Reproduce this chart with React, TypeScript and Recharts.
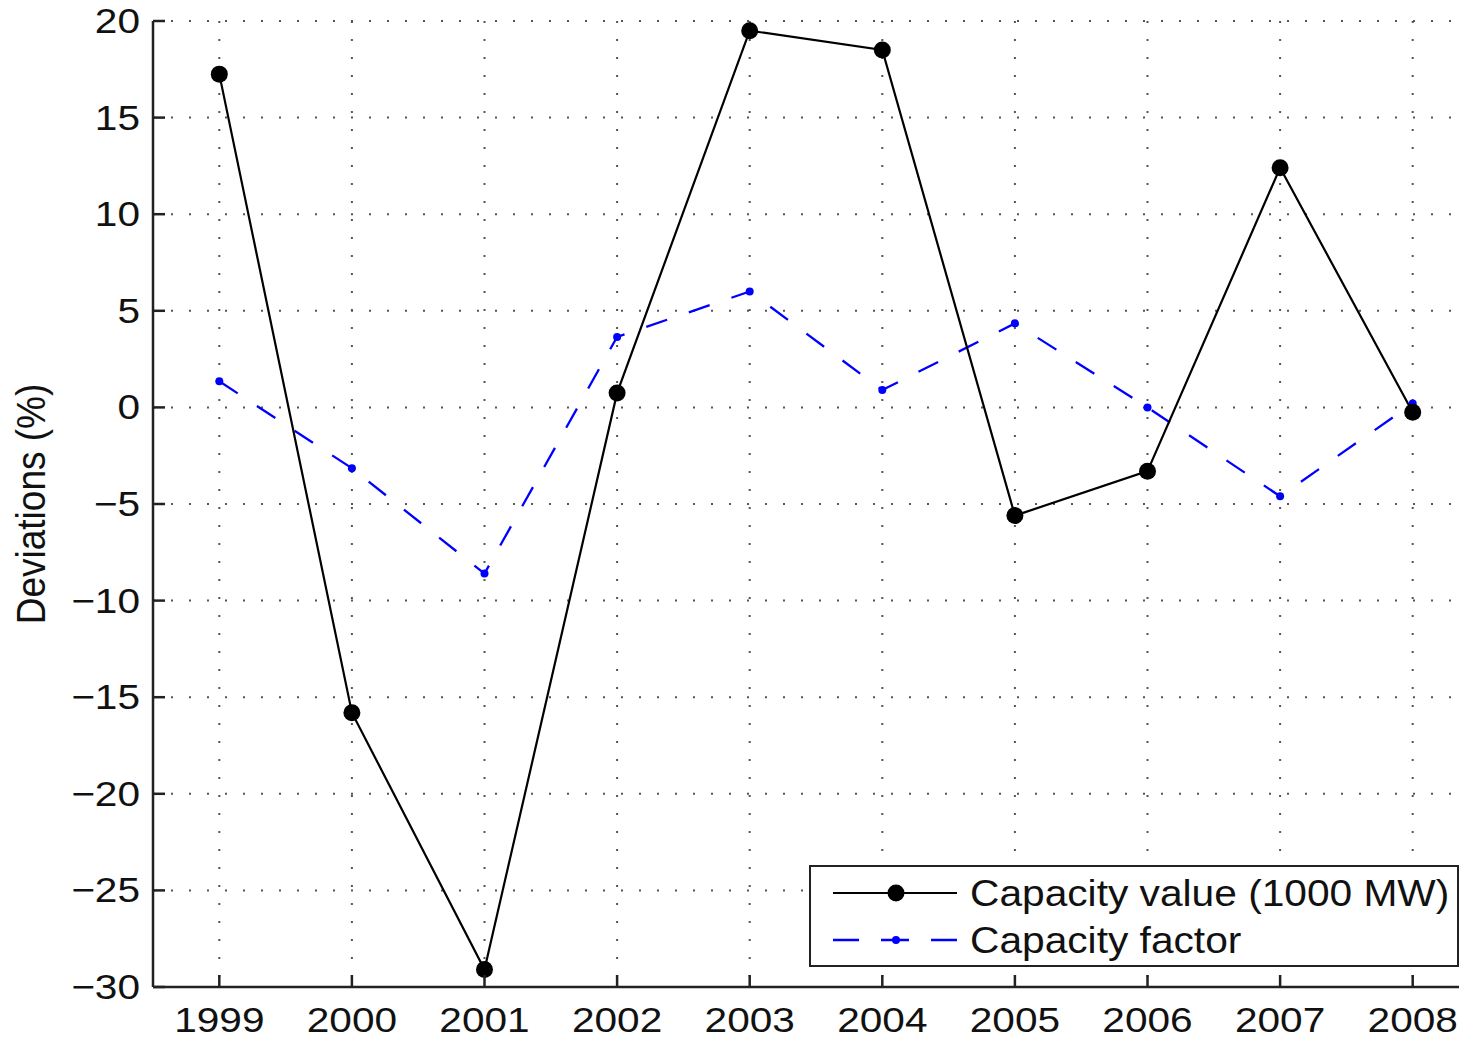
import React from 'react';
import { LineChart, Line, XAxis, YAxis, CartesianGrid } from 'recharts';

const years = [1999, 2000, 2001, 2002, 2003, 2004, 2005, 2006, 2007, 2008];
const capacityValue = [17.25, -15.8, -29.1, 0.75, 19.5, 18.5, -5.6, -3.3, 12.4, -0.25];
const capacityFactor = [1.35, -3.15, -8.6, 3.65, 6.0, 0.9, 4.35, 0.0, -4.6, 0.2];
const yTicks = [-30, -25, -20, -15, -10, -5, 0, 5, 10, 15, 20];
const xDomain = [1998.5, 2008.5];
const yDomain = [-30, 20];
const seriesNames = ['Capacity value (1000 MW)', 'Capacity factor'];
const yLabel = 'Deviations (%)';

const data = years.map((y, i) => ({ year: y, cv: capacityValue[i], cf: capacityFactor[i] }));

const FONT = '"Liberation Sans", Arial, Helvetica, sans-serif';
const AX = '#222';
const TICK = 12;
const SX = 1.16;

const fmt = (v: number) => (v < 0 ? '\u2212' + Math.abs(v) : String(v));

const YTickLeft = (props: any) => {
  const { x, y, payload } = props;
  return (
    <g>
      <line x1={x} y1={y} x2={x + TICK} y2={y} stroke={AX} strokeWidth={2.5} />
      <text
        transform={`translate(${x - 13},${y}) scale(${SX},1)`}
        textAnchor="end"
        dominantBaseline="central"
        fontFamily={FONT}
        fontSize={35}
        fill="#111"
      >
        {fmt(payload.value)}
      </text>
    </g>
  );
};

const YTickRight = (props: any) => {
  const { x, y } = props;
  return <line x1={x} y1={y} x2={x - TICK} y2={y} stroke={AX} strokeWidth={2.5} />;
};

const XTickBottom = (props: any) => {
  const { x, y, payload } = props;
  return (
    <g>
      <line x1={x} y1={y} x2={x} y2={y - TICK} stroke={AX} strokeWidth={2.5} />
      <text
        transform={`translate(${x},${y + 33}) scale(${SX},1)`}
        textAnchor="middle"
        dominantBaseline="central"
        fontFamily={FONT}
        fontSize={35}
        fill="#111"
      >
        {payload.value}
      </text>
    </g>
  );
};

const XTickTop = (props: any) => {
  const { x, y } = props;
  return <line x1={x} y1={y} x2={x} y2={y + TICK} stroke={AX} strokeWidth={2.5} />;
};

const YLabelContent = (props: any) => {
  const vb = props.viewBox || { x: 0, y: 21, width: 145, height: 966 };
  const cy = vb.y + vb.height / 2;
  return (
    <text
      transform={`translate(23,${cy}) rotate(-90) scale(1,1.1)`}
      textAnchor="middle"
      dominantBaseline="central"
      fontFamily={FONT}
      fontSize={37}
      fill="#111"
    >
      {yLabel}
    </text>
  );
};

const LegendBox = () => (
  <div
    style={{
      position: 'absolute',
      left: 801,
      top: 865,
      width: 650,
      height: 102,
      boxSizing: 'border-box',
      border: `2px solid ${AX}`,
      background: '#fff',
    }}
  >
    <svg width={646} height={98} style={{ position: 'absolute', left: 0, top: 0 }}>
      <line x1={22} y1={26} x2={146} y2={26} stroke="#000" strokeWidth={2.2} />
      <circle cx={85} cy={26} r={8.5} fill="#000" />
      <text
        transform={`translate(159,26) scale(1.1,1)`}
        dominantBaseline="central"
        fontFamily={FONT}
        fontSize={37}
        fill="#111"
      >
        {seriesNames[0]}
      </text>
      <line
        x1={22}
        y1={73}
        x2={146}
        y2={73}
        stroke="#0000ff"
        strokeWidth={2.3}
        strokeDasharray="26 22 28 22 26"
      />
      <circle cx={85} cy={73} r={4} fill="#0000ff" />
      <text
        transform={`translate(159,73) scale(1.1,1)`}
        dominantBaseline="central"
        fontFamily={FONT}
        fontSize={37}
        fill="#111"
      >
        {seriesNames[1]}
      </text>
    </svg>
  </div>
);

export default function App() {
  return (
    <div
      style={{
        position: 'relative',
        marginTop: -8,
        width: 1459,
        height: 1038,
        overflow: 'hidden',
        background: '#fff',
      }}
    >
      <LineChart
        width={1480}
        height={1038}
        data={data}
        margin={{ top: 21, right: 9, bottom: 0, left: 0 }}
      >
        <CartesianGrid
          xAxisId="bottom"
          yAxisId="left"
          stroke="#555"
          strokeWidth={2}
          strokeDasharray="2 16"
        />
        <XAxis
          xAxisId="bottom"
          dataKey="year"
          type="number"
          domain={xDomain}
          ticks={years}
          allowDataOverflow
          height={51}
          tickSize={0}
          tickMargin={0}
          tick={<XTickBottom />}
          tickLine={false}
          axisLine={{ stroke: AX, strokeWidth: 2.5 }}
          interval={0}
        />
        <XAxis
          xAxisId="top"
          orientation="top"
          dataKey="year"
          type="number"
          domain={xDomain}
          ticks={years}
          allowDataOverflow
          height={0}
          tickSize={0}
          tickMargin={0}
          tick={<XTickTop />}
          tickLine={false}
          axisLine={{ stroke: AX, strokeWidth: 2.5 }}
          interval={0}
        />
        <YAxis
          yAxisId="left"
          type="number"
          domain={yDomain}
          ticks={yTicks}
          allowDataOverflow
          width={145}
          tickSize={0}
          tickMargin={0}
          tick={<YTickLeft />}
          tickLine={false}
          axisLine={{ stroke: AX, strokeWidth: 2.5 }}
          interval={0}
          label={{ content: (p: any) => <YLabelContent {...p} /> }}
        />
        <YAxis
          yAxisId="right"
          orientation="right"
          type="number"
          domain={yDomain}
          ticks={yTicks}
          allowDataOverflow
          width={0}
          tickSize={0}
          tickMargin={0}
          tick={<YTickRight />}
          tickLine={false}
          axisLine={{ stroke: AX, strokeWidth: 2.5 }}
          interval={0}
        />
        <Line
          xAxisId="bottom"
          yAxisId="left"
          type="linear"
          dataKey="cf"
          name={seriesNames[1]}
          stroke="#0000ff"
          strokeWidth={2.3}
          strokeDasharray="22 23"
          dot={{ r: 4, fill: '#0000ff', stroke: 'none', strokeDasharray: '0' }}
          activeDot={false}
          isAnimationActive={false}
        />
        <Line
          xAxisId="bottom"
          yAxisId="left"
          type="linear"
          dataKey="cv"
          name={seriesNames[0]}
          stroke="#000"
          strokeWidth={2.2}
          dot={{ r: 8.5, fill: '#000', stroke: 'none' }}
          activeDot={false}
          isAnimationActive={false}
        />
      </LineChart>
      <LegendBox />
    </div>
  );
}
